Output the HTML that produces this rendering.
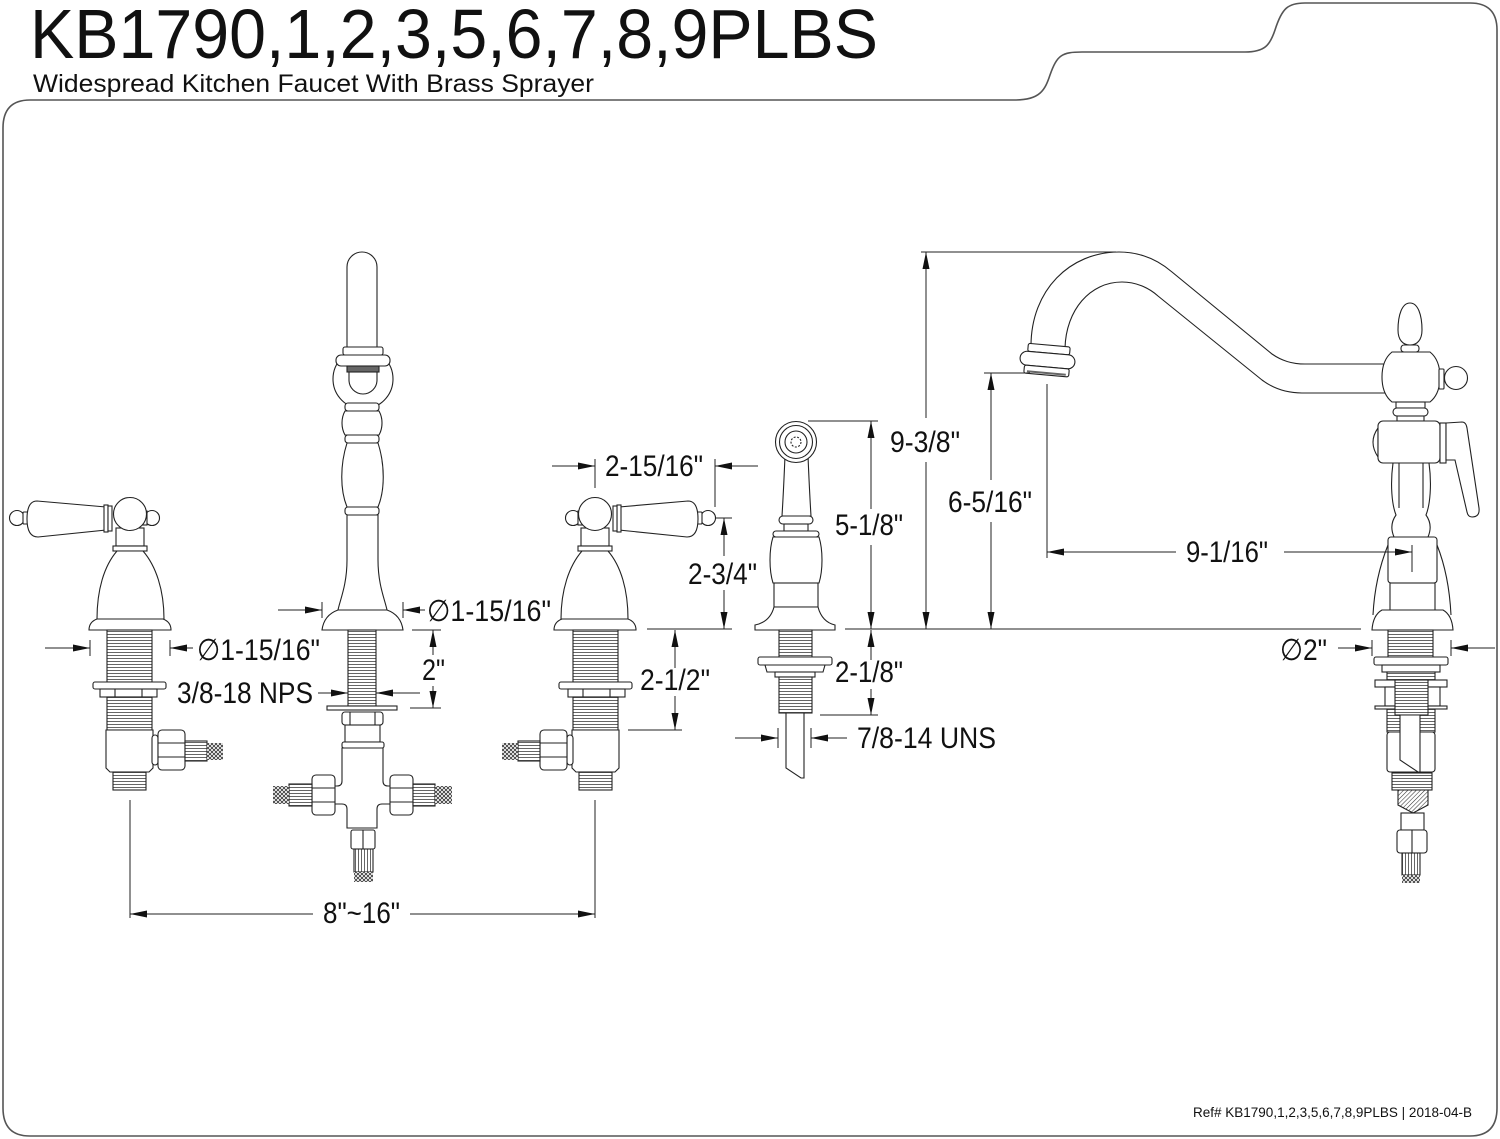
<!DOCTYPE html>
<html><head><meta charset="utf-8"><style>
html,body{margin:0;padding:0;background:#fff;}
svg{display:block;}
text{font-family:"Liberation Sans","DejaVu Sans",sans-serif;fill:#111;}
</style></head><body>
<svg width="1500" height="1139" viewBox="0 0 1500 1139" xmlns="http://www.w3.org/2000/svg">
<defs>
<pattern id="thr" width="6" height="3" patternUnits="userSpaceOnUse"><rect width="6" height="3" fill="#fff"/><line x1="0" y1="1.5" x2="6" y2="1.5" stroke="#555" stroke-width="0.9"/></pattern>
<pattern id="vthr" width="3" height="6" patternUnits="userSpaceOnUse"><rect width="3" height="6" fill="#fff"/><line x1="1.5" y1="0" x2="1.5" y2="6" stroke="#555" stroke-width="0.9"/></pattern>
<pattern id="hat" width="3" height="3" patternUnits="userSpaceOnUse" patternTransform="rotate(45)"><rect width="3" height="3" fill="#fff"/><line x1="0" y1="0" x2="0" y2="3" stroke="#333" stroke-width="1.1"/></pattern>
<pattern id="xh" width="4" height="4" patternUnits="userSpaceOnUse"><rect width="4" height="4" fill="#fff"/><path d="M0,0 L4,4 M4,0 L0,4" stroke="#333" stroke-width="0.8"/></pattern>
<g id="valve">
<circle cx="17" cy="518" r="7.5"/>
<rect x="23" y="512" width="5" height="12" rx="1"/>
<path d="M106,507 L37,501 Q27,501 27,519 Q27,537 38,537 L106,530 Z"/>
<rect x="104" y="505" width="4" height="27"/>
<rect x="108" y="506" width="4" height="25"/>
<circle cx="152" cy="518" r="7.5"/>
<rect x="143" y="511" width="4" height="14"/>
<rect x="116" y="528" width="28" height="18"/>
<circle cx="130" cy="514" r="16.5"/>
<rect x="113" y="546" width="34" height="5"/>
<path d="M117,551 C104,566 97,590 97,619 L164,619 C164,590 156,566 143,551 Z"/>
<path d="M97,619 L163,619 Q171,622 171,630 L89,630 Q89,622 97,619 Z"/>
<rect x="107" y="630" width="45" height="52" fill="url(#thr)"/>
<rect x="93" y="682" width="73" height="7" rx="2"/>
<rect x="100" y="689" width="57" height="8"/>
<line x1="115" y1="689" x2="115" y2="697"/><line x1="142" y1="689" x2="142" y2="697"/>
<rect x="107" y="697" width="45" height="33" fill="url(#thr)"/>
<path d="M106,730 L153,730 L153,768 L149,772 L110,772 L106,768 Z"/>
<rect x="113" y="772" width="33" height="18" fill="url(#thr)"/>
<rect x="152" y="735" width="6" height="30" rx="3"/>
<rect x="158" y="730" width="27" height="40" rx="4"/>
<line x1="158" y1="743" x2="185" y2="743"/><line x1="158" y1="757" x2="185" y2="757"/>
<rect x="185" y="741" width="22" height="20" fill="url(#thr)"/>
<rect x="207" y="743" width="16" height="17" fill="url(#xh)" stroke="none"/>
</g>
</defs>

<!-- frame -->
<path d="M3,1108 L3,128 Q3,100 30,100 L1015,100 C1040,100 1045,90 1050,75 C1057,55 1062,52 1082,52 L1245,52 C1265,52 1270,45 1275,30 C1282,8 1288,3 1305,3 L1470,3 Q1497,3 1497,30 L1497,1108 Q1497,1136 1470,1136 L30,1136 Q3,1136 3,1108 Z" fill="none" stroke="#555" stroke-width="1.6"/>

<text x="30" y="58" font-size="70" textLength="848" lengthAdjust="spacingAndGlyphs">KB1790,1,2,3,5,6,7,8,9PLBS</text>
<text x="33" y="92" font-size="25" textLength="561" lengthAdjust="spacingAndGlyphs">Widespread Kitchen Faucet With Brass Sprayer</text>

<g fill="#fff" stroke="#222" stroke-width="1.1">
<!-- left valve -->
<use href="#valve"/>
<!-- right valve (mirror) -->
<use href="#valve" transform="translate(725,0) scale(-1,1)"/>

<!-- middle spout -->
<path d="M347,347 L347,267 A15,15 0 0 1 377,267 L377,347 Z"/>
<circle cx="363" cy="379" r="30"/>
<rect x="343" y="347" width="40" height="8" rx="2"/>
<rect x="336" y="355" width="54" height="11" rx="5"/>
<rect x="347" y="366" width="32" height="6" fill="#666"/>
<path d="M349,372 L349,380 A14,14 0 0 0 377,380 L377,372" fill="none"/>
<rect x="345" y="403" width="34" height="8" rx="3"/>
<path d="M345,411 C341,418 341,428 345,435 L379,435 C383,428 383,418 379,411 Z"/>
<rect x="345" y="435" width="34" height="8" rx="3"/>
<path d="M347,443 C340,465 340,490 347,507 L378,507 C385,490 385,465 378,443 Z"/>
<rect x="345" y="507" width="34" height="8" rx="3"/>
<path d="M347,515 L347,560 C347,585 340,600 338,610 L387,610 C385,600 378,585 378,560 L378,515 Z"/>
<path d="M338,610 L387,610 Q401,615 403,630 L322,630 Q324,615 338,610 Z"/>
<rect x="348" y="630" width="28" height="76" fill="url(#thr)"/>
<rect x="327" y="706" width="70" height="4"/>
<rect x="342" y="712" width="41" height="13" rx="3"/>
<line x1="350" y1="712" x2="350" y2="725"/><line x1="375" y1="712" x2="375" y2="725"/>
<rect x="345" y="725" width="35" height="17"/>
<rect x="342" y="742" width="42" height="6" rx="2"/>
<path d="M342,748 L383,748 L383,781 Q383,786 388,786 L391,786 L391,804 L382,804 Q377,804 377,809 L377,828 L347,828 L347,809 Q347,804 342,804 L334,804 L334,786 L337,786 Q342,786 342,781 Z"/>
<rect x="312" y="775" width="23" height="40" rx="4"/>
<line x1="312" y1="788" x2="335" y2="788"/><line x1="312" y1="802" x2="335" y2="802"/>
<rect x="289" y="784" width="23" height="22" fill="url(#thr)"/>
<rect x="273" y="786" width="16" height="18" fill="url(#xh)" stroke="none"/>
<rect x="390" y="775" width="23" height="40" rx="4"/>
<line x1="390" y1="788" x2="413" y2="788"/><line x1="390" y1="802" x2="413" y2="802"/>
<rect x="413" y="784" width="22" height="22" fill="url(#thr)"/>
<rect x="435" y="786" width="17" height="18" fill="url(#xh)" stroke="none"/>
<rect x="351" y="830" width="24" height="19" rx="2"/>
<line x1="363" y1="830" x2="363" y2="849"/>
<rect x="354" y="849" width="19" height="23" fill="url(#vthr)"/>
<rect x="354" y="872" width="19" height="10" fill="url(#xh)" stroke="none"/>

<!-- sprayer -->
<path d="M785,456 C784,480 783,500 782,516 L811,516 C810,500 809,480 808,456 Z"/>
<circle cx="796" cy="442" r="20.5"/>
<circle cx="796" cy="442" r="16.5"/>
<circle cx="796" cy="442" r="11"/>
<circle cx="796" cy="442" r="5" fill="none" stroke-dasharray="2 1.5"/>
<rect x="779" y="516" width="34" height="8" rx="4"/>
<rect x="784" y="524" width="24" height="7"/>
<rect x="773" y="531" width="46" height="6" rx="3"/>
<path d="M773,537 C769,550 769,570 773,583 L819,583 C823,570 823,550 819,537 Z"/>
<rect x="774" y="583" width="44" height="24"/>
<path d="M774,607 L818,607 Q822,622 835,625 L835,630 L755,630 L755,625 Q770,622 774,607 Z"/>
<rect x="779" y="630" width="33" height="27" fill="url(#thr)"/>
<rect x="758" y="657" width="74" height="8" rx="2"/>
<path d="M765,665 L825,665 L823,672 L767,672 Z"/>
<rect x="775" y="672" width="40" height="5"/>
<rect x="779" y="677" width="33" height="36" fill="url(#thr)"/>
<path d="M786,713 L786,768 L801,778 L804,778 L804,713 Z"/>

<!-- right faucet spout -->
<path fill="none" d="M1031,346 C1031,290 1070,252 1119,252 C1140,252 1158,260 1172,272 L1272,354 C1282,361 1292,364 1305,364 L1386,364"/>
<path fill="none" d="M1065,348 C1066,310 1090,282 1122,282 C1135,282 1148,287 1158,296 L1262,380 C1274,389 1287,393 1302,393 L1386,393"/>
<g transform="rotate(5 1047 360)">
<rect x="1027" y="345" width="42" height="8" rx="2"/>
<rect x="1020" y="353" width="55" height="14" rx="7"/>
<rect x="1025" y="367" width="45" height="8" rx="2"/>
<line x1="1028" y1="373" x2="1067" y2="373" stroke="#666" stroke-width="2"/>
</g>
<!-- body -->
<path d="M1410,303 C1418,303 1422,315 1422,330 C1422,340 1417,345 1410,345 C1403,345 1398,340 1398,330 C1398,315 1402,303 1410,303 Z"/>
<rect x="1401" y="345" width="18" height="7" rx="3"/>
<path d="M1392,352 L1430,352 Q1440,360 1440,377 Q1440,394 1430,402 L1392,402 Q1382,394 1382,377 Q1382,360 1392,352 Z"/>
<rect x="1439" y="369" width="5" height="20" rx="1"/>
<circle cx="1456" cy="378" r="11.5"/>
<rect x="1396" y="402" width="29" height="6"/>
<rect x="1393" y="408" width="35" height="8" rx="4"/>
<rect x="1397" y="416" width="27" height="5"/>
<path d="M1393,463 C1390,485 1392,505 1396,515 C1391,522 1391,530 1394,537 L1428,537 C1431,530 1431,522 1426,515 C1430,505 1432,485 1429,463 Z"/>
<line x1="1399" y1="463" x2="1399" y2="508"/><line x1="1423" y1="463" x2="1423" y2="508"/>
<path d="M1378,428 Q1368,442 1378,457 Z"/>
<rect x="1378" y="421" width="62" height="42" rx="5"/>
<rect x="1440" y="423" width="6" height="40"/>
<path d="M1446,423 L1462,422 Q1466,422 1467,428 L1479,508 Q1480,517 1472,517 Q1468,517 1467,512 L1455,460 L1446,460 Z"/>
<path d="M1388,545 C1378,570 1374,595 1373,615" fill="none"/>
<path d="M1437,545 C1447,570 1450,595 1451,615" fill="none"/>
<rect x="1388" y="537" width="49" height="46" rx="3"/>
<rect x="1390" y="583" width="45" height="29"/>
<path d="M1382,610 L1443,610 Q1452,615 1453,630 L1372,630 Q1373,615 1382,610 Z"/>
<rect x="1388" y="630" width="45" height="27" fill="url(#thr)"/>
<rect x="1374" y="657" width="74" height="8" rx="2"/>
<rect x="1382" y="665" width="58" height="7"/>
<rect x="1387" y="672" width="48" height="60" fill="url(#thr)"/>
<rect x="1375" y="680" width="72" height="7"/>
<rect x="1385" y="687" width="55" height="19"/>
<rect x="1375" y="706" width="72" height="3"/>
<rect x="1395" y="680" width="33" height="35" fill="url(#thr)"/>
<rect x="1387" y="732" width="48" height="40" rx="3"/>
<path d="M1400,715 L1400,760 L1418,772 L1420,772 L1420,715 Z"/>
<rect x="1392" y="773" width="40" height="17" fill="url(#thr)"/>
<path d="M1398,790 L1428,790 L1428,805 L1413,813 L1398,805 Z" fill="url(#hat)"/>
<rect x="1401" y="813" width="23" height="17"/>
<rect x="1397" y="830" width="30" height="23" rx="3"/>
<line x1="1412" y1="830" x2="1412" y2="853"/>
<rect x="1402" y="853" width="18" height="22" fill="url(#vthr)"/>
<rect x="1402" y="875" width="18" height="8" fill="url(#xh)" stroke="none"/>
</g>

<!-- dimension lines -->
<g stroke="#222" stroke-width="1" fill="none">
<path d="M45,648 H90 M90,640 V656 M170,640 V656 M170,648 H193"/>
<path d="M278,610 H322 M322,602 V618 M403,602 V618 M403,610 H425"/>
<path d="M318,693 H348 M376,693 H420"/>
<path d="M412,630 H441 M410,708 H441 M433,630 V655 M433,686 V708"/>
<path d="M552,466 H595 M595,459 V488 M715,466 H758 M715,459 V507"/>
<path d="M715,518 H732 M724,518 V556 M724,590 V629 M647,629 H732"/>
<path d="M675,630 V668 M675,696 V730 M628,730 H682"/>
<path d="M808,421 H878 M871,421 V509 M871,545 V629"/>
<path d="M871,630 V660 M871,689 V715 M820,715 H878"/>
<path d="M845,629 H1361"/>
<path d="M735,738 H778 M778,728 V748 M811,728 V748 M811,738 H847"/>
<path d="M921,252 H1116 M926,252 V418 M926,462 V629"/>
<path d="M984,373 H1030 M991,373 V480 M991,522 V629"/>
<path d="M1047,384 V558 M1047,552 H1176 M1284,552 H1412 M1412,545 V572"/>
<path d="M1338,648 H1372 M1372,640 V656 M1451,640 V656 M1451,648 H1495"/>
<path d="M130,800 V918 M595,800 V918 M130,914 H313 M410,914 H595"/>
</g>
<g fill="#111">
<polygon points="90,648 73,644.5 73,651.5"/>
<polygon points="170,648 187,644.5 187,651.5"/>
<polygon points="322,610 305,606.5 305,613.5"/>
<polygon points="403,610 420,606.5 420,613.5"/>
<polygon points="348,693 331,689.5 331,696.5"/>
<polygon points="376,693 393,689.5 393,696.5"/>
<polygon points="433,630 429.5,647 436.5,647"/>
<polygon points="433,708 429.5,691 436.5,691"/>
<polygon points="595,466 578,462.5 578,469.5"/>
<polygon points="715,466 732,462.5 732,469.5"/>
<polygon points="724,518 720.5,535 727.5,535"/>
<polygon points="724,629 720.5,612 727.5,612"/>
<polygon points="675,630 671.5,647 678.5,647"/>
<polygon points="675,730 671.5,713 678.5,713"/>
<polygon points="871,421 867.5,438 874.5,438"/>
<polygon points="871,629 867.5,612 874.5,612"/>
<polygon points="871,630 867.5,647 874.5,647"/>
<polygon points="871,715 867.5,698 874.5,698"/>
<polygon points="778,738 761,734.5 761,741.5"/>
<polygon points="811,738 828,734.5 828,741.5"/>
<polygon points="926,252 922.5,269 929.5,269"/>
<polygon points="926,629 922.5,612 929.5,612"/>
<polygon points="991,373 987.5,390 994.5,390"/>
<polygon points="991,629 987.5,612 994.5,612"/>
<polygon points="1047,552 1064,548.5 1064,555.5"/>
<polygon points="1412,552 1395,548.5 1395,555.5"/>
<polygon points="1372,648 1355,644.5 1355,651.5"/>
<polygon points="1451,648 1468,644.5 1468,651.5"/>
<polygon points="130,914 147,910.5 147,917.5"/>
<polygon points="595,914 578,910.5 578,917.5"/>
</g>

<!-- labels -->
<g font-size="30">
<text x="197" y="660" textLength="123" lengthAdjust="spacingAndGlyphs">∅1-15/16"</text>
<text x="177" y="703" textLength="136" lengthAdjust="spacingAndGlyphs">3/8-18 NPS</text>
<text x="427" y="621" textLength="124" lengthAdjust="spacingAndGlyphs">∅1-15/16"</text>
<text x="422" y="680" textLength="23" lengthAdjust="spacingAndGlyphs">2"</text>
<text x="605" y="476" textLength="98" lengthAdjust="spacingAndGlyphs">2-15/16"</text>
<text x="688" y="584" textLength="69" lengthAdjust="spacingAndGlyphs">2-3/4"</text>
<text x="640" y="690" textLength="70" lengthAdjust="spacingAndGlyphs">2-1/2"</text>
<text x="835" y="535" textLength="68" lengthAdjust="spacingAndGlyphs">5-1/8"</text>
<text x="835" y="682" textLength="68" lengthAdjust="spacingAndGlyphs">2-1/8"</text>
<text x="857" y="748" textLength="139" lengthAdjust="spacingAndGlyphs">7/8-14 UNS</text>
<text x="890" y="452" textLength="70" lengthAdjust="spacingAndGlyphs">9-3/8"</text>
<text x="948" y="512" textLength="84" lengthAdjust="spacingAndGlyphs">6-5/16"</text>
<text x="1186" y="562" textLength="82" lengthAdjust="spacingAndGlyphs">9-1/16"</text>
<text x="1280" y="660" textLength="47" lengthAdjust="spacingAndGlyphs">∅2"</text>
<text x="323" y="923" textLength="77" lengthAdjust="spacingAndGlyphs">8"~16"</text>
</g>
<text x="1193" y="1117" font-size="14" textLength="279" lengthAdjust="spacingAndGlyphs" fill="#333">Ref# KB1790,1,2,3,5,6,7,8,9PLBS | 2018-04-B</text>
</svg>
</body></html>
